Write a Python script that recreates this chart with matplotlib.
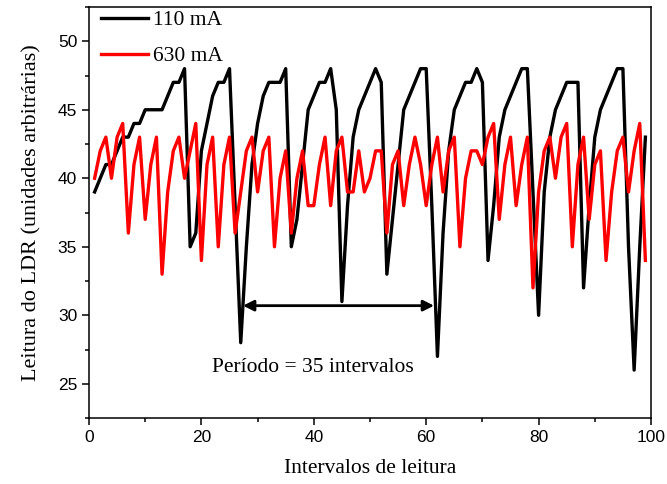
import numpy as np
import matplotlib
matplotlib.use("Agg")
import matplotlib.pyplot as plt
from matplotlib.ticker import MultipleLocator

# leitura do LDR por intervalo (1..99)
intervalos = list(range(1, 100))

ldr_110mA = [
    39, 40, 41, 41, 42, 43, 43, 44, 44, 45,
    45, 45, 45, 46, 47, 47, 48, 35, 36, 42,
    44, 46, 47, 47, 48, 38, 28, 35, 41, 44,
    46, 47, 47, 47, 48, 35, 37, 41, 45, 46,
    47, 47, 48, 45, 31, 38, 43, 45, 46, 47,
    48, 47, 33, 37, 41, 45, 46, 47, 48, 48,
    38, 27, 36, 42, 45, 46, 47, 47, 48, 47,
    34, 38, 43, 45, 46, 47, 48, 48, 39, 30,
    39, 43, 45, 46, 47, 47, 47, 32, 38, 43,
    45, 46, 47, 48, 48, 35, 26, 35, 43,
]

ldr_630mA = [
    40, 42, 43, 40, 43, 44, 36, 41, 43, 37,
    41, 43, 33, 39, 42, 43, 40, 42, 44, 34,
    41, 43, 35, 41, 43, 36, 39, 42, 43, 39,
    42, 43, 35, 40, 42, 36, 40, 42, 38, 38,
    41, 43, 38, 42, 43, 39, 39, 42, 39, 40,
    42, 42, 36, 41, 42, 38, 41, 43, 41, 38,
    41, 43, 39, 42, 43, 35, 40, 42, 42, 41,
    43, 44, 37, 41, 43, 38, 41, 43, 32, 39,
    42, 43, 40, 43, 44, 35, 41, 43, 37, 41,
    42, 34, 39, 42, 43, 39, 42, 44, 34,
]

periodo_ini, periodo_fim = 27, 62

SERIF = "Liberation Serif"
SANS = "Liberation Sans"

fig = plt.figure(figsize=(6.67, 4.84), dpi=100)
ax = fig.add_axes([89/667, 1 - 418/484, (651 - 89)/667, (418 - 7)/484])

ax.plot(intervalos, ldr_110mA, color="black", lw=2.4, label="110 mA")
ax.plot(intervalos, ldr_630mA, color="red", lw=2.4, label="630 mA")

ax.set_xlim(0, 100)
ax.set_ylim(22.5, 52.5)
ax.xaxis.set_major_locator(MultipleLocator(20))
ax.xaxis.set_minor_locator(MultipleLocator(10))
ax.yaxis.set_major_locator(MultipleLocator(5))
ax.yaxis.set_minor_locator(MultipleLocator(2.5))
ax.tick_params(which="major", direction="out", length=5, width=1.1,
               labelsize=12.5)
ax.tick_params(which="minor", direction="out", length=3, width=1.1)
for lab in ax.get_xticklabels() + ax.get_yticklabels():
    lab.set_family(SANS)
for sp in ax.spines.values():
    sp.set_linewidth(1.1)

ax.set_xlabel("Intervalos de leitura", family=SERIF, fontsize=15.5, labelpad=10)
ax.set_ylabel("Leitura do LDR (unidades arbitrárias)", family=SERIF,
              fontsize=16, labelpad=12)

# seta do periodo
ax.annotate("", xy=(periodo_ini + 0.4, 30.7), xytext=(periodo_fim - 0.6, 30.7),
            arrowprops=dict(arrowstyle="<|-|>", color="black", lw=2,
                            mutation_scale=16, shrinkA=0, shrinkB=0))
ax.text(39.8, 26.15, f"Período = {periodo_fim - periodo_ini} intervalos",
        family=SERIF, fontsize=15.5, ha="center", va="center")

ax.legend(loc="upper left", bbox_to_anchor=(12/562, 1 - 3/411), frameon=False,
          prop={"family": SERIF, "size": 15.5}, handlelength=2.2,
          handletextpad=0.2, labelspacing=0.75, borderpad=0,
          borderaxespad=0)

fig.savefig("out.png", dpi=100)
